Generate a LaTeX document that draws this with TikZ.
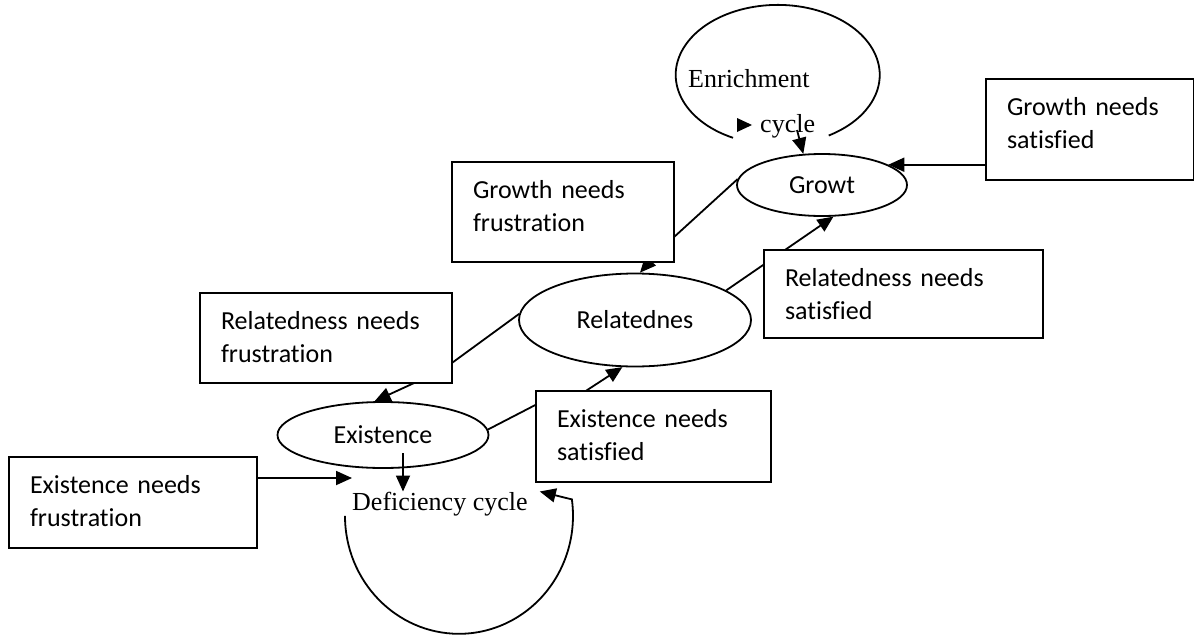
\documentclass[tikz,border=0pt]{standalone}
\usepackage{fontspec}
\setmainfont{Liberation Serif}
\newfontfamily\calibri[Ligatures=NoCommon]{Carlito}
\usetikzlibrary{arrows.meta}
\usetikzlibrary{shapes.geometric}

\newcommand{\needfont}{\calibri\fontsize{26}{33}\selectfont}
\newcommand{\cyclefont}{\fontsize{26}{32}\selectfont}

\begin{document}
\begin{tikzpicture}[x=1pt,y=-1pt,
    stage/.style={draw, ellipse, line width=1.8pt, inner sep=0pt, font=\needfont},
    needbox/.style={draw, fill=white, line width=2pt, anchor=north west, align=left,
        inner xsep=21pt, inner ysep=0pt, text height=36pt, font=\needfont},
    cyclelabel/.style={font=\cyclefont, inner sep=0pt, anchor=base west},
    flow/.style={line width=1.8pt, -{Triangle[length=16pt,width=14pt]}},
    plain/.style={line width=1.8pt}]
    \useasboundingbox (0,0) rectangle (1194,635);

    \node[stage, minimum width=170pt, minimum height=62pt] (growt) at (822,185) {Growt};
    \node[stage, minimum width=232pt, minimum height=93pt] (relatednes) at (635,320) {Relatednes};
    \node[stage, minimum width=211pt, minimum height=66pt] (existence) at (383,435) {Existence};

    \node[cyclelabel] (enrichment) at (688,87) {Enrichment};
    \node[cyclelabel] (enrcycle) at (760,132) {cycle};
    \node[cyclelabel] (deficiency) at (352,510) {Deficiency cycle};

    \draw[plain] ([xshift=-27pt]enrcycle.south west) arc[start angle=116, end angle=420, x radius=102, y radius=70];
    \fill (737,118) -- (752,125) -- (737,132) -- cycle;
    \draw[flow] ([xshift=37pt,yshift=2pt]enrcycle.base west) -- (growt.121);

    \draw[flow] ([xshift=-7pt]deficiency.south west) arc[start angle=180, end angle=-8, x radius=114, y radius=118]
        -- ([xshift=12pt]deficiency.north east);
    \coordinate (exfoot) at ([xshift=20pt,yshift=-18pt]existence.center);
    \draw[flow] (exfoot) -- (exfoot |- deficiency.north);

    \draw[flow] (growt.176) -- (662,248) -- (relatednes.84);
    \draw[flow] (relatednes.177) -- (445,368) -- (438,372) -- (existence.104);
    \draw[flow] (existence.3) -- (545,400) -- (575,398) -- (relatednes.255);
    \draw[flow] (relatednes.18) -- (growt.290);

    \node[needbox, text width=180pt, text depth=64pt] (gnf) at (451,161) {Growth needs\\frustration};
    \node[needbox, text width=166pt, text depth=65pt] (gns) at (985,78) {Growth needs\\satisfied};
    \node[needbox, text width=210pt, text depth=54pt] (rnf) at (199,292) {Relatedness needs\\frustration};
    \node[needbox, text width=237pt, text depth=52pt] (rns) at (763,249) {Relatedness needs\\satisfied};
    \node[needbox, text width=193pt, text depth=55pt] (ens) at (535,390) {Existence needs\\satisfied};
    \node[needbox, text width=206pt, text depth=55pt] (enf) at (8,456) {Existence needs\\frustration};

    \draw[flow] (gns.west |- growt.17) -- (growt.17);
    \coordinate (enfout) at ([yshift=24.5pt]enf.east);
    \draw[flow] (enfout) -- (enfout -| deficiency.west);
\end{tikzpicture}
\end{document}
